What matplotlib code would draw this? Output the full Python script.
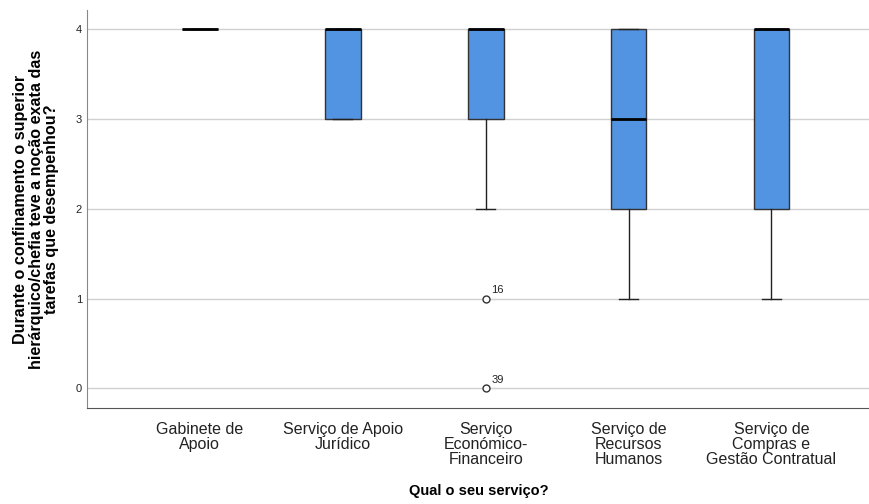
import matplotlib.pyplot as plt

services = ["Gabinete de\nApoio", "Serviço de Apoio\nJurídico", "Serviço\nEconómico-\nFinanceiro",
            "Serviço de\nRecursos\nHumanos", "Serviço de\nCompras e\nGestão Contratual"]
whislo = [4, 3, 2, 1, 1]
q1 = [4, 3, 3, 2, 2]
med = [4, 4, 4, 3, 4]
q3 = [4, 4, 4, 4, 4]
whishi = [4, 4, 4, 4, 4]
outliers = [[], [], [1, 0], [], []]
outlier_ids = [[], [], [16, 39], [], []]

plt.rcParams['font.family'] = ['Liberation Sans', 'DejaVu Sans']

stats = []
for i in range(len(services)):
    stats.append(dict(whislo=whislo[i], q1=q1[i], med=med[i], q3=q3[i],
                      whishi=whishi[i], fliers=outliers[i]))

fig = plt.figure(figsize=(8.7, 5.04), dpi=100)
ax = fig.add_axes([0.1, 0.19, 0.9, 0.79])

pos = list(range(len(services)))
ax.bxp(stats, positions=pos, widths=0.25, patch_artist=True,
       boxprops=dict(facecolor='#5294E2', edgecolor='#333333', linewidth=1),
       medianprops=dict(color='black', linewidth=2),
       whiskerprops=dict(color='#222222', linewidth=1),
       capprops=dict(color='#222222', linewidth=1),
       flierprops=dict(marker='o', markersize=5, markerfacecolor='white',
                       markeredgecolor='#333333', markeredgewidth=1),
       capwidths=0.13, zorder=3)

# case numbers next to the outliers
for i, (vals, ids) in enumerate(zip(outliers, outlier_ids)):
    for v, n in zip(vals, ids):
        ax.annotate(str(n), (pos[i], v), xytext=(4, 4), textcoords='offset points',
                    fontsize=8, color='#222222')

ax.set_xlim(-0.79, 4.69)
ax.set_ylim(-0.22, 4.21)
ax.set_yticks([0, 1, 2, 3, 4])
ax.set_yticklabels(['0', '1', '2', '3', '4'], fontsize=8)
ax.set_xticks(pos)
ax.set_xticklabels(services, fontsize=11.5, linespacing=1.0)
ax.tick_params(axis='both', length=0, colors='#222222')
ax.tick_params(axis='x', pad=10)
ax.grid(axis='y', color='#d0d0d0', linewidth=1, zorder=0)

for s in ['top', 'right']:
    ax.spines[s].set_visible(False)
ax.spines['left'].set_color('#888888')
ax.spines['bottom'].set_color('#555555')

ax.set_xlabel("Qual o seu serviço?", fontsize=10.5, fontweight='bold', labelpad=12)
ax.set_ylabel("Durante o confinamento o superior\nhierárquico/chefia teve a noção exata das\ntarefas que desempenhou?",
              fontsize=11.6, fontweight='bold', linespacing=1.05, labelpad=12)

fig.savefig("out.png")
